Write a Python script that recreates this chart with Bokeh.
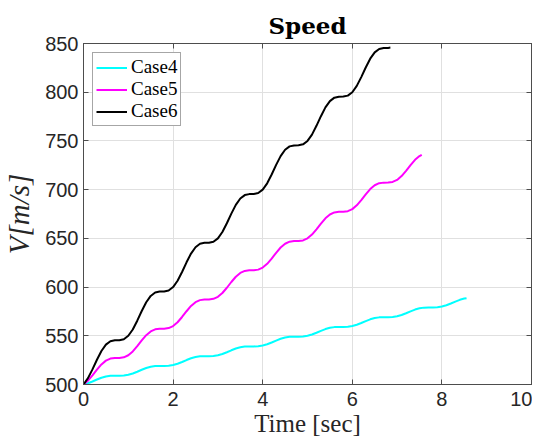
import numpy as np
from bokeh.plotting import figure
from bokeh.models import LinearAxis, Legend, LegendItem, FixedTicker, Range1d
from bokeh.embed import file_html
from bokeh.resources import INLINE

# ---- data ----
t6 = list(np.round(np.arange(0, 6.81, 0.1), 2)) + [6.85]
case6 = [500, 506.5, 515.5, 525.4, 534.4, 540.9, 544.4, 545.4, 545.5, 546.5,
         550, 556.5, 565.5, 575.4, 584.4, 590.9, 594.4, 595.4, 595.5, 596.5,
         600, 606.5, 615.5, 625.4, 634.4, 640.9, 644.4, 645.4, 645.5, 646.5,
         650, 656.5, 665.5, 675.4, 684.4, 690.9, 694.4, 695.4, 695.5, 696.5,
         700, 706.5, 715.5, 725.4, 734.4, 740.9, 744.4, 745.4, 745.5, 746.5,
         750, 756.5, 765.5, 775.4, 784.4, 790.9, 794.4, 795.4, 795.5, 796.5,
         800, 806.5, 815.5, 825.4, 834.4, 840.9, 844.4, 845.4, 845.5, 845.8]

t5 = list(np.round(np.arange(0, 7.51, 0.1), 2)) + [7.55]
case5 = [500, 503.9, 509.3, 515.2, 520.6, 524.5, 526.6, 527.2, 527.3, 527.9,
         530, 533.9, 539.3, 545.2, 550.6, 554.5, 556.6, 557.2, 557.3, 557.9,
         560, 563.9, 569.3, 575.2, 580.6, 584.5, 586.6, 587.2, 587.3, 587.9,
         590, 593.9, 599.3, 605.2, 610.6, 614.5, 616.6, 617.2, 617.3, 617.9,
         620, 623.9, 629.3, 635.2, 640.6, 644.5, 646.6, 647.2, 647.3, 647.9,
         650, 653.9, 659.3, 665.2, 670.6, 674.5, 676.6, 677.2, 677.3, 677.9,
         680, 683.9, 689.3, 695.2, 700.6, 704.5, 706.6, 707.2, 707.3, 707.9,
         710, 713.9, 719.3, 725.2, 730.6, 734.5, 735.8]

t4 = list(np.round(np.arange(0, 8.51, 0.1), 2)) + [8.55]
case4 = [500, 501.3, 503.1, 505.1, 506.9, 508.2, 508.9, 509.1, 509.1, 509.3,
         510, 511.3, 513.1, 515.1, 516.9, 518.2, 518.9, 519.1, 519.1, 519.3,
         520, 521.3, 523.1, 525.1, 526.9, 528.2, 528.9, 529.1, 529.1, 529.3,
         530, 531.3, 533.1, 535.1, 536.9, 538.2, 538.9, 539.1, 539.1, 539.3,
         540, 541.3, 543.1, 545.1, 546.9, 548.2, 548.9, 549.1, 549.1, 549.3,
         550, 551.3, 553.1, 555.1, 556.9, 558.2, 558.9, 559.1, 559.1, 559.3,
         560, 561.3, 563.1, 565.1, 566.9, 568.2, 568.9, 569.1, 569.1, 569.3,
         570, 571.3, 573.1, 575.1, 576.9, 578.2, 578.9, 579.1, 579.1, 579.3,
         580, 581.3, 583.1, 585.1, 586.9, 588.2, 588.6]

x_ticks = [0, 2, 4, 6, 8, 10]
y_ticks = [500, 550, 600, 650, 700, 750, 800, 850]
names = ["Case4", "Case5", "Case6"]
colors = ["#00FFFF", "#FF00FF", "#000000"]

AX = "#4d4d4d"
TXT = "#262626"

p = figure(frame_width=448, frame_height=341,
           x_range=Range1d(0, 10), y_range=Range1d(500, 850),
           output_backend="svg", toolbar_location=None,
           min_border_left=83, min_border_right=1,
           min_border_top=43, min_border_bottom=58,
           background_fill_color="white", border_fill_color="white")

p.outline_line_color = AX
p.outline_line_width = 1

p.title.text = "Speed"
p.title.text_font = "DejaVu Serif"
p.title.text_font_style = "bold"
p.title.text_font_size = "23px"
p.title.align = "center"
p.title.text_color = "#000000"

for ax, ticks in ((p.xaxis[0], x_ticks), (p.yaxis[0], y_ticks)):
    ax.ticker = FixedTicker(ticks=ticks)
    ax.major_tick_in = 5
    ax.major_tick_out = 0
    ax.minor_tick_in = 0
    ax.minor_tick_out = 0
    ax.axis_line_color = AX
    ax.major_tick_line_color = AX
    ax.major_label_text_font = "Liberation Sans"
    ax.major_label_text_font_size = "20px"
    ax.major_label_text_color = TXT
    ax.axis_label_text_font = "Liberation Serif"
    ax.axis_label_text_font_size = "25px"
    ax.axis_label_text_color = TXT

p.xaxis[0].axis_label = "Time [sec]"
p.xaxis[0].axis_label_text_font_style = "normal"
p.xaxis[0].major_label_standoff = 7
p.xaxis[0].axis_label_standoff = 1
p.yaxis[0].axis_label = "V[m/s]"
p.yaxis[0].axis_label_text_font_style = "italic"
p.yaxis[0].axis_label_text_font_size = "29px"
p.yaxis[0].major_label_standoff = 5
p.yaxis[0].axis_label_standoff = 7

# mirrored ticks (top / right)
for loc, ticks in (("above", x_ticks), ("right", y_ticks)):
    ax = LinearAxis(ticker=FixedTicker(ticks=ticks))
    ax.major_tick_in = 5
    ax.major_tick_out = 0
    ax.minor_tick_in = 0
    ax.minor_tick_out = 0
    ax.axis_line_color = AX
    ax.major_tick_line_color = AX
    ax.major_label_text_font_size = "0px"
    ax.major_label_standoff = 0
    ax.major_label_text_alpha = 0
    p.add_layout(ax, loc)

p.xgrid.ticker = FixedTicker(ticks=x_ticks)
p.ygrid.ticker = FixedTicker(ticks=y_ticks)
p.grid.grid_line_color = "#e0e0e0"
p.grid.grid_line_width = 1

r4 = p.line(t4, case4, line_color=colors[0], line_width=2)
r5 = p.line(t5, case5, line_color=colors[1], line_width=2)
r6 = p.line(t6, case6, line_color=colors[2], line_width=2)

legend = Legend(items=[LegendItem(label=names[0], renderers=[r4]),
                       LegendItem(label=names[1], renderers=[r5]),
                       LegendItem(label=names[2], renderers=[r6])],
                location="top_left")
legend.margin = 9
legend.padding = 3
legend.spacing = -1
legend.glyph_width = 31
legend.glyph_height = 19
legend.label_height = 19
legend.label_standoff = 4
legend.label_text_font = "Liberation Serif"
legend.label_text_font_size = "19px"
legend.label_text_color = "#000000"
legend.border_line_color = AX
legend.border_line_width = 1.5
legend.background_fill_color = "white"
legend.background_fill_alpha = 1
p.add_layout(legend, "center")

open("out.html", "w").write(file_html(p, INLINE))
